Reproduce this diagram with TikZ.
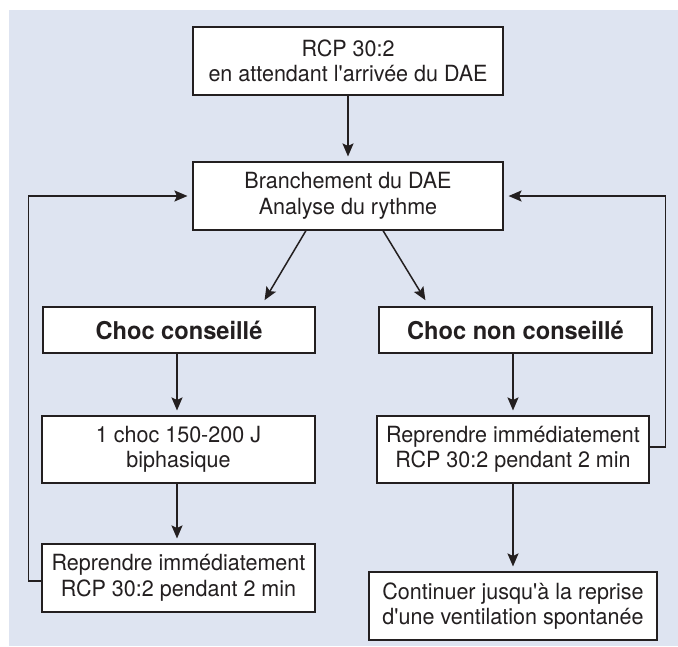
\documentclass[tikz,border=0pt]{standalone}
\usepackage{fontspec}
\setmainfont{TeX Gyre Heros}[FakeStretch=0.965]
\usetikzlibrary{arrows.meta}
\definecolor{bgblue}{HTML}{DEE4F1}
\definecolor{ink}{HTML}{231F20}
\newcommand{\apos}{\textquotesingle}
\begin{document}
\begin{tikzpicture}[x=1pt,y=-1pt,
  box/.style={draw=ink, fill=white, line width=1.1pt, inner sep=0pt, align=center,
    text=ink, font=\fontsize{22.3}{25.5}\selectfont},
  boldbox/.style={box, font=\fontsize{24.5}{28}\selectfont\bfseries},
  arr/.style={draw=ink, line width=1.5pt, shorten >=5pt,
    -{Stealth[length=13pt,width=11pt,inset=2.5pt]}}]
\useasboundingbox (0,0) rectangle (678,646);
\fill[bgblue] (9,10) rectangle (678,646);

\node[box, minimum width=310pt, minimum height=68pt] (top) at (348,61)
  {RCP 30:2\\en attendant l\apos arrivée du DAE};
\node[box, minimum width=310pt, minimum height=68pt] (branch) at (348,196)
  {Branchement du DAE\\Analyse du rythme};
\node[boldbox, minimum width=272pt, minimum height=46pt] (choc1) at (179,330)
  {Choc conseillé};
\node[boldbox, minimum width=273pt, minimum height=46pt] (choc2) at (515.5,330)
  {Choc non conseillé};
\node[box, minimum width=273pt, minimum height=67pt] (shock) at (178.5,449.5)
  {1 choc 150-200 J\\biphasique};
\node[box, minimum width=272pt, minimum height=67pt] (rep2) at (513,449.5)
  {Reprendre immédiatement\\RCP 30:2 pendant 2 min};
\node[box, minimum width=273pt, minimum height=68pt] (rep1) at (178.5,578)
  {Reprendre immédiatement\\RCP 30:2 pendant 2 min};
\node[box, minimum width=288pt, minimum height=68pt] (cont) at (513,606)
  {Continuer jusqu\apos à la reprise\\d\apos une ventilation spontanée};

\draw[arr] (top.south) -- (branch.north);
\draw[arr] ([xshift=-42pt]branch.south) -- ([xshift=83pt,yshift=2pt]choc1.north);
\draw[arr] ([xshift=35pt]branch.south) -- ([xshift=-87.5pt,yshift=2pt]choc2.north);
\draw[arr] ([xshift=-2pt]choc1.south) -- ([xshift=-1.5pt]shock.north);
\draw[arr] ([xshift=-2.5pt]choc2.south) -- (rep2.north);
\draw[arr] ([xshift=-1.5pt]shock.south) -- ([xshift=-1.5pt]rep1.north);
\draw[arr] (rep2.south) -- (cont.north);
\draw[arr] ([yshift=-3pt]rep1.west) -- ++(-13,0) |- (branch.west);
\draw[arr] ([yshift=2.5pt]rep2.east) -- ++(16,0) |- (branch.east);
\end{tikzpicture}
\end{document}
